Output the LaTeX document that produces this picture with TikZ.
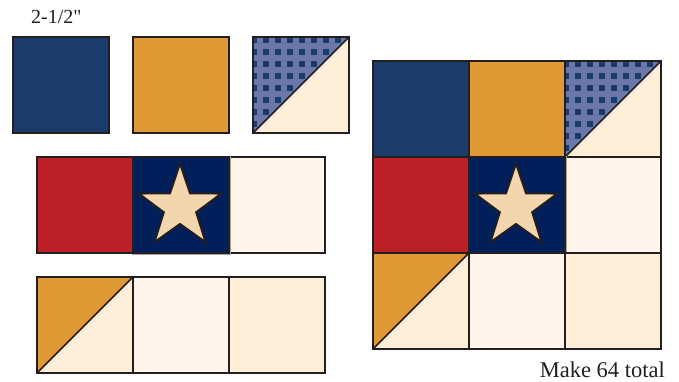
\documentclass[tikz,border=0pt]{standalone}
\usepackage{fontspec}
\newfontfamily\qfont{Liberation Serif}
\definecolor{navy}{HTML}{1B3C6B}
\definecolor{gold}{HTML}{E09A35}
\definecolor{qred}{HTML}{BB2026}
\definecolor{deepnavy}{HTML}{001F5B}
\definecolor{starfill}{HTML}{F4D6AE}
\definecolor{pale}{HTML}{FFF5EA}
\definecolor{cream}{HTML}{FFEFD9}
\definecolor{checkbg}{HTML}{6B77A8}
\definecolor{ink}{HTML}{231F20}
\tikzset{
  edge/.style={draw=ink,line width=1.5pt},
  lbl/.style={inner sep=0pt,text=ink,font=\qfont\fontsize{20}{24}\selectfont},
  lblbig/.style={lbl,font=\qfont\fontsize{22.5}{26}\selectfont},
}
\newcommand{\qsq}[3]{\fill[#3] (#1,#2) rectangle ++(96,96);}
\newcommand{\qframe}[2]{\draw[edge] (#1,#2) rectangle ++(96,96);}
\newcommand{\qhst}[4]{%
  \fill[#3] (#1,#2) -- ++(96,0) -- ++(-96,96) -- cycle;
  \fill[#4] (#1+96,#2) -- ++(0,96) -- ++(-96,0) -- cycle;
  \draw[edge] (#1,#2+96) -- ++(96,-96);}
\newcommand{\qcheck}[2]{%
  \begin{scope}
    \clip (#1,#2) -- ++(96,0) -- ++(-96,96) -- cycle;
    \fill[checkbg] (#1,#2) rectangle ++(96,96);
    \foreach \i in {0,...,8}{\foreach \j in {0,...,8}{
      \fill[navy] ({#1-2+12*\i},{#2+12*\j}) rectangle ++(6,5.5);
    }}
  \end{scope}
  \fill[cream] (#1+96,#2) -- ++(0,96) -- ++(-96,0) -- cycle;
  \draw[edge] (#1,#2+96) -- ++(96,-96);}
\newcommand{\qstar}[2]{%
  \fill[deepnavy] (#1,#2) rectangle ++(96,96);
  \draw[draw=ink,line width=2pt,fill=starfill,line join=miter]
    ({#1+47+43.5*cos(90)},{#2+50-43.5*sin(90)})
    \foreach \k in {1,...,9}{
      -- ({#1+47+(isodd(\k)?17:43.5)*cos(90+36*\k)},{#2+50-(isodd(\k)?17:43.5)*sin(90+36*\k)})
    } -- cycle;
  \draw[gray!70,line width=1pt] (#1-1,#2-1) -- ++(98,0) -- ++(0,98) -- ++(-98,0);
  \draw[edge] (#1,#2) rectangle ++(96,96);}
\begin{document}
\begin{tikzpicture}[x=1pt,y=-1pt]
\useasboundingbox (0,0) rectangle (679,381);
\node[lbl,anchor=base west] (size) at (31,23.5) {2-1/2"};
\node[lblbig,anchor=base east] (make) at (665,377) {Make 64 total};
\qsq{13}{37}{navy}\qframe{13}{37}
\qsq{133}{37}{gold}\qframe{133}{37}
\qcheck{253}{37}\qframe{253}{37}
\qsq{37}{157}{qred}\qframe{37}{157}
\qsq{229}{157}{pale}\qframe{229}{157}
\qstar{133}{157}
\qhst{37}{277}{gold}{cream}\qframe{37}{277}
\qsq{133}{277}{pale}\qframe{133}{277}
\qsq{229}{277}{cream}\qframe{229}{277}
\qsq{373}{61}{navy}\qframe{373}{61}
\qsq{469}{61}{gold}\qframe{469}{61}
\qcheck{565}{61}\qframe{565}{61}
\qsq{373}{157}{qred}\qframe{373}{157}
\qsq{565}{157}{pale}\qframe{565}{157}
\qstar{469}{157}
\qhst{373}{253}{gold}{cream}\qframe{373}{253}
\qsq{469}{253}{pale}\qframe{469}{253}
\qsq{565}{253}{cream}\qframe{565}{253}
\end{tikzpicture}
\end{document}
